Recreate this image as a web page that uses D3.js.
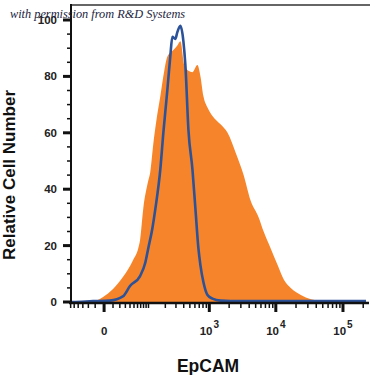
<!DOCTYPE html>
<html>
<head>
<meta charset="utf-8">
<script src="https://cdn.jsdelivr.net/npm/d3@7"></script>
<style>
  html, body { margin: 0; padding: 0; background: #fff; }
  svg { display: block; }
</style>
</head>
<body>
<svg id="chart" width="375" height="375"></svg>
<script>
// ---- data (EpCAM intensity vs relative cell number) ----
const sampleX = [-62, -17, -1, 10, 26, 48, 62, 68, 79, 99, 108, 123, 139, 164, 192, 216, 262, 316, 354, 410, 475, 549, 656, 731, 813, 938, 1117, 1481, 1893, 2500, 3300, 4200, 5545, 6580, 8390, 10670, 13130, 16720, 23580, 33260, 46900, 220000];
const sampleY = [0, 0, 1.8, 4.6, 9, 15, 19, 22, 33, 43, 46, 56, 64, 73, 82, 87, 89, 91, 92.5, 84, 82, 81.5, 84, 80, 73, 69, 66, 63, 60, 53, 45, 36, 30, 25, 19, 13, 8, 5, 2.5, 1, 0.5, 0.4];

const isotypeX = [-62, -53, -13, 6, 26, 40, 68, 87, 99, 118, 134, 164, 185, 216, 242, 262, 293, 316, 354, 395, 425, 475, 549, 611, 680, 731, 813, 938, 1117, 1481, 2970, 220000];
const isotypeY = [0, 0, 0.3, 0.5, 2.1, 5.7, 9.2, 14, 19, 26, 33, 47, 60, 75, 87, 94, 93.3, 95.7, 97.9, 92.5, 84, 61, 47, 33, 19, 13, 7, 2.5, 1.2, 0.5, 0.3, 0.3];

const yMajorTicks = [0, 20, 40, 60, 80, 100];
const yMinorTicks = [5, 10, 15, 25, 30, 35, 45, 50, 55, 65, 70, 75, 85, 90, 95];
const xMajorTicks = [0, 1000, 10000, 100000];
const xMajorLabels = [["0", ""], ["10", "3"], ["10", "4"], ["10", "5"]];
const xMinorTicks = [-60, -50, -40, -30, -20, -10,
  10, 20, 30, 40, 50, 60, 70, 80, 90,
  100, 200, 300, 400, 500, 600, 700, 800, 900,
  2000, 3000, 4000, 5000, 6000, 7000, 8000, 9000,
  20000, 30000, 40000, 50000, 60000, 70000, 80000, 90000,
  200000];

const xTitle = "EpCAM";
const yTitle = "Relative Cell Number";
const credit = "with permission from R&D Systems";

// ---- layout ----
const svg = d3.select("#chart");
const mLeft = 71, mTop = 5, mBottom = 303;

const x = d3.scaleSymlog().constant(28).domain([-62, 220000]).range([70, 366]);
const y = d3.scaleLinear().domain([0, 100]).range([302, 20]);

const sample = sampleX.map((v, i) => ({ x: v, y: sampleY[i] }));
const isotype = isotypeX.map((v, i) => ({ x: v, y: isotypeY[i] }));

// filled sample histogram
svg.append("path")
  .datum(sample)
  .attr("fill", "#f6842a")
  .attr("d", d3.area().x(d => x(d.x)).y0(y(0)).y1(d => y(d.y)).curve(d3.curveMonotoneX));

// isotype outline
svg.append("path")
  .datum(isotype)
  .attr("fill", "none")
  .attr("stroke", "#2c5299")
  .attr("stroke-width", 2.6)
  .attr("stroke-linejoin", "round")
  .attr("d", d3.line().x(d => x(d.x)).y(d => y(d.y)).curve(d3.curveMonotoneX));

// top frame line
svg.append("line").attr("x1", mLeft).attr("x2", 370).attr("y1", mTop).attr("y2", mTop)
  .attr("stroke", "#666").attr("stroke-width", 2);

// y axis line
svg.append("line").attr("x1", mLeft).attr("x2", mLeft).attr("y1", mTop - 1).attr("y2", mBottom + 1)
  .attr("stroke", "#111").attr("stroke-width", 2);

// y ticks
svg.selectAll(".yminor").data(yMinorTicks).join("line")
  .attr("x1", mLeft - 4).attr("x2", mLeft).attr("y1", d => y(d)).attr("y2", d => y(d))
  .attr("stroke", "#111").attr("stroke-width", 1.5);
svg.selectAll(".ymajor").data(yMajorTicks).join("line")
  .attr("x1", mLeft - 8).attr("x2", mLeft).attr("y1", d => y(d)).attr("y2", d => y(d))
  .attr("stroke", "#111").attr("stroke-width", 3);
svg.selectAll(".ylab").data(yMajorTicks).join("text")
  .attr("x", 57).attr("y", d => y(d) + 4)
  .attr("text-anchor", "end")
  .attr("font-family", "Liberation Sans, Arial, sans-serif")
  .attr("font-weight", "bold").attr("font-size", 11.5).attr("fill", "#222")
  .text(d => d);

// x axis line
svg.append("line").attr("x1", 69).attr("x2", 369).attr("y1", mBottom).attr("y2", mBottom)
  .attr("stroke", "#111").attr("stroke-width", 2.5);

// x ticks
svg.selectAll(".xminor").data(xMinorTicks).join("line")
  .attr("x1", d => x(d)).attr("x2", d => x(d)).attr("y1", mBottom).attr("y2", mBottom + 5)
  .attr("stroke", "#111").attr("stroke-width", 1.5);
svg.selectAll(".xmajor").data(xMajorTicks).join("line")
  .attr("x1", d => x(d)).attr("x2", d => x(d)).attr("y1", mBottom).attr("y2", mBottom + 9)
  .attr("stroke", "#111").attr("stroke-width", 3);

const xl = svg.selectAll(".xlab").data(xMajorTicks).join("text")
  .attr("x", d => x(d))
  .attr("y", 335)
  .attr("text-anchor", "middle")
  .attr("font-family", "Liberation Sans, Arial, sans-serif")
  .attr("font-weight", "bold").attr("font-size", 11.5).attr("fill", "#222");
xl.each(function(d, i) {
  const t = d3.select(this);
  const lab = xMajorLabels[i];
  t.append("tspan").text(lab[0]);
  if (lab[1]) t.append("tspan").attr("dy", -7).attr("dx", 1).attr("font-size", 10).text(lab[1]);
});

// axis titles
svg.append("text").attr("x", 208).attr("y", 372)
  .attr("text-anchor", "middle")
  .attr("font-family", "Liberation Sans, Arial, sans-serif")
  .attr("font-weight", "bold").attr("font-size", 17.5).attr("fill", "#111")
  .text(xTitle);
svg.append("text")
  .attr("transform", "translate(15,175) rotate(-90)")
  .attr("text-anchor", "middle")
  .attr("font-family", "Liberation Sans, Arial, sans-serif")
  .attr("font-weight", "bold").attr("font-size", 17).attr("fill", "#111")
  .text(yTitle);

// credit line (overlaps the top tick label, as in the reference)
svg.append("text").attr("x", 10).attr("y", 18)
  .attr("font-family", "Liberation Serif, serif")
  .attr("font-style", "italic").attr("font-size", 12.3).attr("fill", "#1b2440")
  .text(credit);
</script>
</body>
</html>
